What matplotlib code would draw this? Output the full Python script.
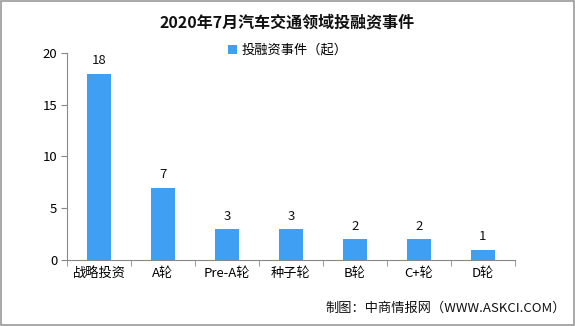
import matplotlib
matplotlib.use("Agg")
import matplotlib.pyplot as plt
from matplotlib.patches import Rectangle
from matplotlib.ticker import FixedLocator, NullFormatter

plt.rcParams['font.family'] = ['Noto Sans CJK SC', 'DejaVu Sans']

categories = ["战略投资", "A轮", "Pre-A轮", "种子轮", "B轮", "C+轮", "D轮"]
values = [18, 7, 3, 3, 2, 2, 1]
series_name = "投融资事件（起）"
yticks = [0, 5, 10, 15, 20]

fig = plt.figure(figsize=(5.75, 3.26), dpi=100)
ax = fig.add_axes([0.1165, 0.2025, 0.779, 0.635])

x = list(range(len(categories)))
bars = ax.bar(x, values, width=0.375, color="#3F9FF2", label=series_name, zorder=2)
for xi, v in zip(x, values):
    ax.text(xi, v + 0.6, str(v), ha="center", va="bottom", fontsize=9.5, color="#111111")

ax.set_xlim(-0.5, len(categories) - 0.5)
ax.set_ylim(0, 20)
ax.set_yticks(yticks)
ax.set_yticklabels([str(t) for t in yticks], fontsize=9.5)
ax.set_xticks(x)
ax.set_xticklabels(categories, fontsize=9.5)
ax.tick_params(axis="x", which="major", length=0, pad=5)
ax.xaxis.set_minor_locator(FixedLocator([i - 0.5 for i in range(len(categories) + 1)]))
ax.xaxis.set_minor_formatter(NullFormatter())
ax.tick_params(axis="x", which="minor", length=4, color="#888888")
ax.tick_params(axis="y", length=4, color="#888888", pad=3)
for s in ["top", "right"]:
    ax.spines[s].set_visible(False)
for s in ["left", "bottom"]:
    ax.spines[s].set_color("#888888")

fig.text(0.5, 0.93, "2020年7月汽车交通领域投融资事件", ha="center", va="center",
         fontsize=11.5, fontweight="bold", color="#111111")
leg = fig.legend(handles=[bars], labels=[series_name], loc="center", bbox_to_anchor=(0.5, 0.845),
                 frameon=False, fontsize=9.5, handlelength=0.7, handleheight=0.7, handletextpad=0.3)
fig.text(0.985, 0.055, "制图：中商情报网（WWW.ASKCI.COM）", ha="right", va="center",
         fontsize=9.5, color="#111111")

fig.add_artist(Rectangle((0.001, 0.002), 0.997, 0.995, transform=fig.transFigure,
                         fill=False, edgecolor="#999999", linewidth=1.2))

fig.savefig("out.png", dpi=100)
